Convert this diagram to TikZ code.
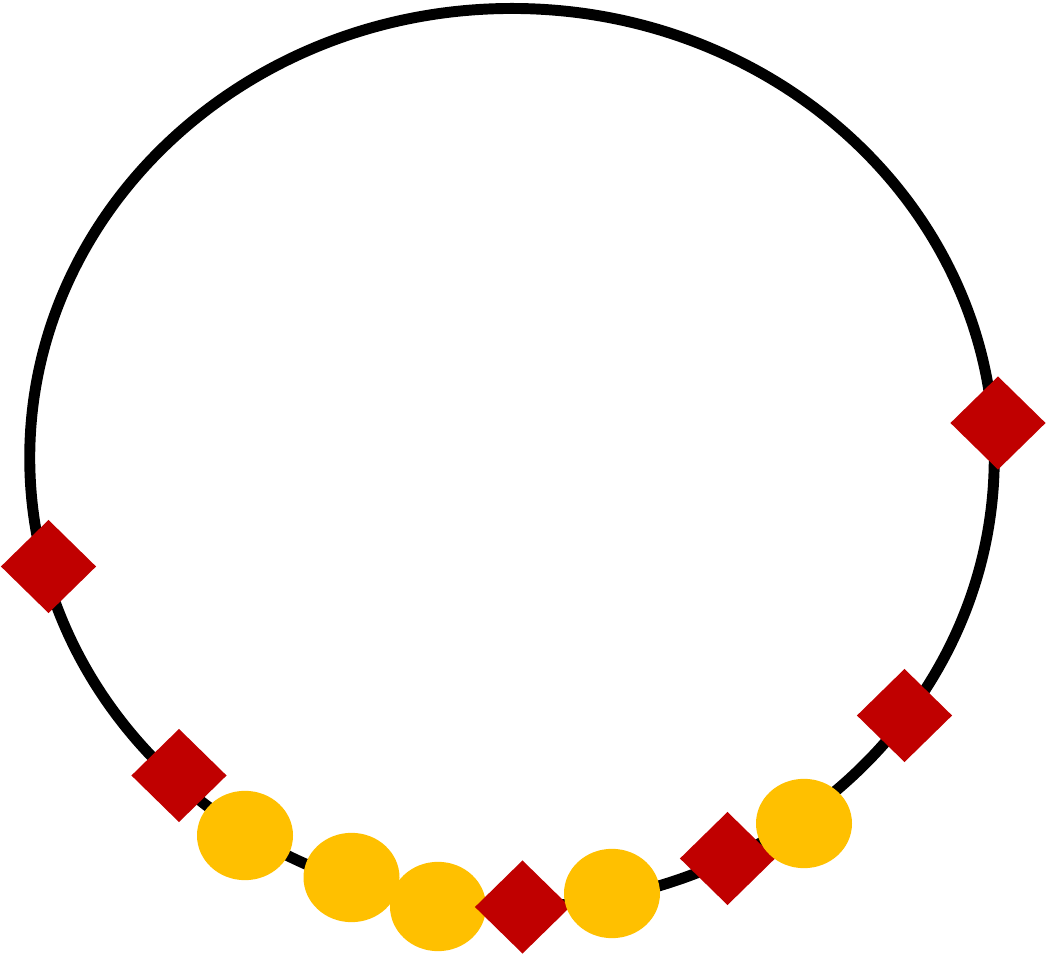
\documentclass[tikz,border=0pt]{standalone}
\usetikzlibrary{shapes.geometric}
\definecolor{dred}{HTML}{C00000}
\definecolor{gold}{HTML}{FFC000}
\tikzset{
  px/.style={x=0.75pt,y=-0.75pt},
  ring/.style={draw=black,line width=8.2pt},
  redmark/.style={diamond,fill=dred,draw=none,inner sep=0pt,minimum width=71.5pt,minimum height=70pt},
  goldmark/.style={ellipse,fill=gold,draw=none,inner sep=0pt,minimum width=72pt,minimum height=67pt}
}
\begin{document}
\begin{tikzpicture}[px]
\useasboundingbox (0,0) rectangle (1047,955);
\draw[ring] (512,457.8) ellipse [x radius=361.7pt, y radius=337pt];
\node[redmark] (d1) at (48.5,566.5) {};
\node[redmark] (d2) at (998,423) {};
\node[redmark] (d3) at (904.5,715.5) {};
\node[redmark] (d4) at (179,775.5) {};
\node[goldmark] (e1) at (245,835.5) {};
\node[goldmark] (e2) at (351.5,877.5) {};
\node[goldmark] (e3) at (438,906.5) {};
\node[redmark] (d5) at (522.5,907) {};
\node[goldmark] (e4) at (612,893.5) {};
\node[redmark] (d6) at (727.5,858.5) {};
\node[goldmark] (e5) at (804,823.5) {};
\end{tikzpicture}
\end{document}
